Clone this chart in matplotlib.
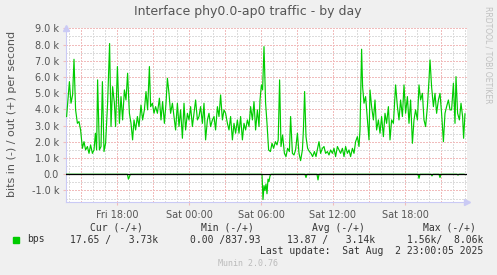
import matplotlib
matplotlib.use("Agg")
import matplotlib.pyplot as plt
from matplotlib.ticker import FixedLocator, FuncFormatter

# minutes since Fri 00:00, outgoing traffic in kbit/s
out_minutes = [828, 842, 850, 858, 865, 873, 882, 890, 898, 907, 915, 923, 932, 940, 948,
               957, 965, 972, 978, 983, 992, 1000, 1007, 1015, 1023, 1033, 1043, 1050, 1058,
               1067, 1073, 1082, 1092, 1100, 1108, 1117, 1125, 1133, 1142, 1150, 1158, 1165,
               1173, 1182, 1190, 1200, 1208, 1217, 1225, 1233, 1242, 1248, 1257, 1265, 1273,
               1282, 1292, 1300, 1308, 1317, 1325, 1332, 1340, 1348, 1357, 1365, 1373, 1382,
               1390, 1398, 1407, 1415, 1423, 1432, 1440, 1448, 1457, 1465, 1473, 1482, 1490,
               1498, 1507, 1515, 1523, 1532, 1540, 1548, 1557, 1565, 1573, 1582, 1590, 1598,
               1607, 1615, 1623, 1632, 1640, 1648, 1657, 1665, 1673, 1682, 1690, 1698, 1707,
               1715, 1723, 1732, 1740, 1748, 1757, 1765, 1773, 1782, 1790, 1795, 1802, 1808,
               1815, 1823, 1830, 1838, 1847, 1855, 1863, 1872, 1880, 1886, 1893,
               1900, 1908, 1917, 1925, 1933, 1942, 1948, 1957, 1965, 1973, 1982, 1990, 1998,
               2007, 2012, 2018, 2025, 2033, 2042, 2050, 2058, 2067, 2075, 2083, 2090, 2098,
               2107, 2115, 2123, 2132, 2140, 2148, 2157, 2165, 2173, 2182, 2190, 2198, 2207,
               2215, 2223, 2232, 2240, 2248, 2257, 2265, 2273, 2282, 2290, 2295, 2303, 2308,
               2315, 2323, 2332, 2340, 2345, 2353, 2362, 2370, 2378, 2387, 2395, 2403, 2412,
               2420, 2428, 2437, 2445, 2453, 2462, 2473, 2482, 2490, 2498, 2507, 2515, 2523,
               2532, 2540, 2548, 2557, 2565, 2573, 2582, 2590, 2598, 2607, 2615, 2623, 2632,
               2640, 2645, 2653, 2662, 2670, 2678, 2687, 2695, 2703, 2712, 2720, 2728, 2737,
               2745, 2753, 2762, 2770, 2775, 2783, 2792, 2800, 2808, 2813, 2820]
out_k = [3.56, 5.71, 4.38, 4.89, 7.09, 3.97, 3.14, 3.25, 2.73, 1.60, 2.01, 1.50, 1.71, 1.29, 1.81,
         1.29, 1.50, 2.53, 1.50, 5.82, 1.50, 1.71, 5.71, 1.40, 1.91, 4.38, 8.06, 2.94, 5.40,
         4.38, 2.94, 6.64, 3.14, 4.79, 3.35, 5.20, 4.58, 6.23, 3.76, 3.14, 2.12, 3.35,
         2.73, 3.56, 2.94, 4.27, 3.35, 3.97, 5.10, 3.97, 6.64, 4.17, 4.38, 3.76, 4.17,
         3.76, 4.69, 3.35, 4.48, 3.14, 4.38, 5.92, 4.99, 3.76, 4.38, 3.56, 2.73, 4.38,
         2.94, 3.97, 2.22, 4.38, 2.73, 3.76, 3.35, 4.17, 2.94, 3.76, 4.58, 3.35, 3.56,
         4.17, 3.14, 4.38, 2.12, 3.35, 3.76, 2.94, 3.35, 3.56, 2.73, 4.17, 3.56, 4.89,
         3.35, 3.97, 3.76, 3.14, 2.73, 3.56, 2.12, 3.14, 2.53, 3.35, 2.53, 3.56, 2.12,
         3.14, 2.73, 3.35, 2.94, 4.17, 3.35, 4.48, 2.73, 3.97, 2.94, 4.58, 5.51, 5.20,
         7.87, 4.38, 3.14, 1.50, 1.40, 1.91, 1.60, 2.01, 1.81, 2.12, 5.82,
         1.71, 2.42, 1.29, 1.09, 1.60, 1.40, 3.56, 1.29, 1.19, 1.50, 2.53, 1.29, 0.84,
         1.50, 2.73, 5.10, 2.32, 1.60, 1.40, 1.29, 1.09, 1.40, 1.09, 1.60, 2.01, 1.29,
         1.60, 1.71, 1.29, 1.40, 1.19, 1.50, 1.29, 1.60, 1.09, 1.71, 1.50, 1.29, 1.60,
         1.09, 1.71, 1.29, 1.50, 1.09, 1.60, 1.29, 2.01, 2.32, 1.71, 2.73, 7.71, 5.40,
         4.38, 4.79, 3.35, 2.12, 5.20, 4.17, 3.35, 4.58, 2.73, 3.35, 2.53, 3.56, 2.32,
         3.76, 3.14, 4.17, 2.12, 3.35, 3.14, 5.51, 4.17, 3.35, 4.58, 3.56, 5.51, 3.76,
         4.79, 3.14, 4.58, 1.91, 3.35, 3.97, 3.35, 5.51, 4.58, 4.99, 3.35, 2.94, 4.17,
         5.82, 7.05, 5.40, 4.17, 4.99, 3.76, 4.58, 4.99, 3.76, 2.01, 3.76, 4.17, 4.58,
         3.97, 3.97, 5.61, 3.14, 6.02, 3.76, 3.35, 4.38, 3.56, 2.22, 3.73]

# incoming traffic (drawn negative), kbit/s
in_minutes = [828, 1132, 1137, 1142, 1147, 1805, 1810, 1815, 1820, 1825, 1830, 1835, 1840,
              1845, 1850, 2020, 2025, 2030, 2080, 2085, 2090, 2585, 2590, 2595, 2650, 2655,
              2660, 2690, 2695, 2700, 2780, 2785, 2790, 2815, 2820]
in_k = [0, 0, 0.30, 0.15, 0, 0, 1.56, 0.70, 1.00, 0.60, 1.20, 0.30, 0.45,
        0.10, 0, 0, 0.20, 0, 0, 0.35, 0, 0, 0.25, 0, 0, 0.10,
        0, 0, 0.20, 0, 0, 0.05, 0, 0, 0.018]

x_ticks = [1080, 1440, 1800, 2160, 2520]
x_labels = ["Fri 18:00", "Sat 00:00", "Sat 06:00", "Sat 12:00", "Sat 18:00"]

W, H = 497, 275
bg = "#F0F0F0"
txt = "#555555"
red_grid = "#F1BCBC"
grey_grid = "#DCDCDC"
axis_c = "#CACAF5"

fig = plt.figure(figsize=(W / 100, H / 100), dpi=100, facecolor=bg)
ax = fig.add_axes([66 / W, 1 - 202 / H, 401 / W, 173.7 / H])
ax.set_facecolor("white")

ax.plot(out_minutes, [v * 1000 for v in out_k], color="#00CC00", lw=0.85, zorder=3)
ax.plot(in_minutes, [-v * 1000 for v in in_k], color="#00CC00", lw=0.85, zorder=3)
ax.axhline(0, color="black", lw=0.9, zorder=4)

ax.set_xlim(825, 2830)
ax.set_ylim(-1710, 9000)

# grid: minor grey every hour / 500, major red every 3h / 1k
for m in range(840, 2830, 60):
    c = red_grid if m % 180 == 0 else grey_grid
    ax.axvline(m, color=c, lw=0.72, ls=(0, (1.4, 1.4)), antialiased=False, zorder=1)
for v in range(-1500, 9001, 500):
    c = red_grid if v % 1000 == 0 else grey_grid
    ax.axhline(v, color=c, lw=0.72, ls=(0, (1.4, 1.4)), antialiased=False, zorder=1)

ax.xaxis.set_major_locator(FixedLocator(x_ticks))
ax.set_xticklabels(x_labels)
ax.yaxis.set_major_locator(FixedLocator(range(-1000, 9001, 1000)))
ax.yaxis.set_major_formatter(FuncFormatter(
    lambda v, p: "0.0" if v == 0 else f"{v / 1000:.1f} k"))
ax.tick_params(axis="both", labelsize=7, colors=txt, length=2, pad=3)
ax.tick_params(axis="x", color=red_grid, pad=4)
ax.tick_params(axis="y", color=red_grid)

for s in ["top", "right"]:
    ax.spines[s].set_visible(False)
for s in ["left", "bottom"]:
    ax.spines[s].set_color(axis_c)
    ax.spines[s].set_linewidth(0.8)
ax.plot([1], [0], marker=">", ms=4, color=axis_c, transform=ax.transAxes, clip_on=False)
ax.plot([0], [1], marker="^", ms=4, color=axis_c, transform=ax.transAxes, clip_on=False)

def ftext(x, y, s, **kw):
    fig.text(x / W, 1 - y / H, s, **kw)

ftext(248, 12, "Interface phy0.0-ap0 traffic - by day", ha="center", va="center",
      fontsize=9, color=txt)
ftext(12, 114, "bits in (-) / out (+) per second", rotation=90, ha="center",
      va="center", fontsize=8, color=txt)
ftext(488, 6, "RRDTOOL / TOBI OETIKER", rotation=270, ha="center", va="top",
      fontsize=5.5, color="#C0C0C0")

mono = dict(family="DejaVu Sans Mono", fontsize=7, color="#333333", va="center")
ftext(143, 228, "Cur (-/+)", ha="right", **mono)
ftext(254, 228, "Min (-/+)", ha="right", **mono)
ftext(365, 228, "Avg (-/+)", ha="right", **mono)
ftext(476, 228, "Max (-/+)", ha="right", **mono)
fig.patches.append(plt.Rectangle((13 / W, 1 - 242.5 / H), 6 / W, 6 / H,
                                 transform=fig.transFigure, color="#00CC00"))
ftext(27, 239.5, "bps", ha="left", **mono)
ftext(158, 239.5, "17.65 /   3.73k", ha="right", **mono)
ftext(261, 239.5, "0.00 /837.93", ha="right", **mono)
ftext(375, 239.5, "13.87 /   3.14k", ha="right", **mono)
ftext(483, 239.5, "1.56k/  8.06k", ha="right", **mono)
ftext(483, 251.5, "Last update:  Sat Aug  2 23:00:05 2025", ha="right", **mono)
ftext(248, 264, "Munin 2.0.76", ha="center", va="center", family="DejaVu Sans Mono",
      fontsize=6, color="#BBBBBB")

fig.savefig("out.png", dpi=100, facecolor=bg)
